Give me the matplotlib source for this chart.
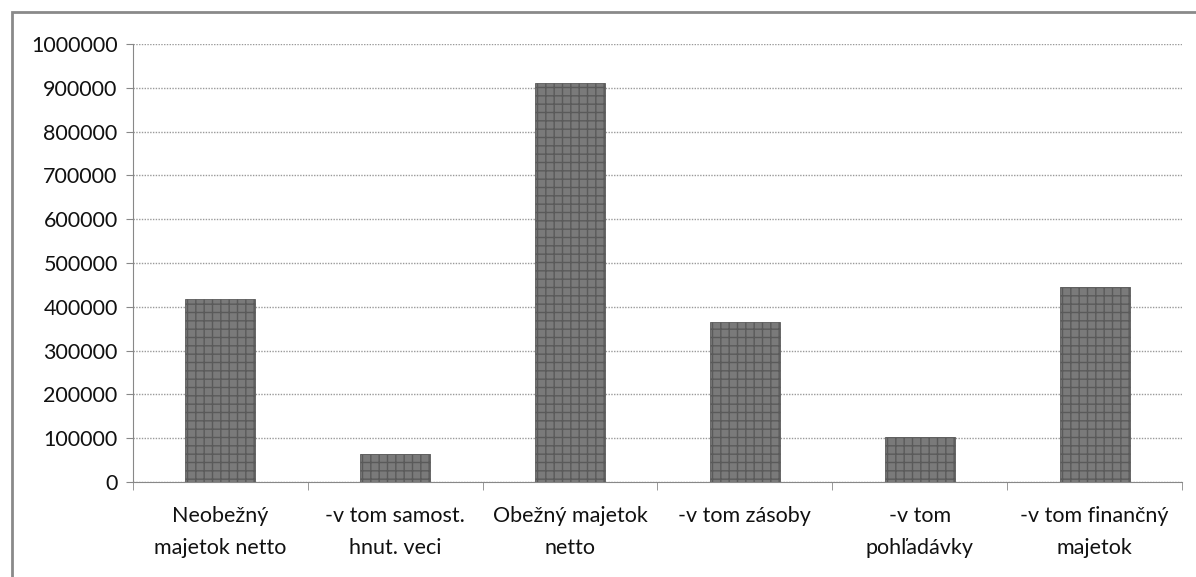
import matplotlib.pyplot as plt
import numpy as np
from matplotlib.patches import Rectangle

kategorie = ['Neobežný\nmajetok netto', '-v tom samost.\nhnut. veci', 'Obežný majetok\nnetto',
             '-v tom zásoby\n', '-v tom\npohľadávky', '-v tom finančný\nmajetok']
hodnoty = [418000, 64000, 911000, 365000, 103000, 445000]
y_ticky = list(range(0, 1000001, 100000))

plt.rcParams['font.family'] = ['Lato', 'DejaVu Sans']

fig = plt.figure(figsize=(11.96, 5.77), dpi=100)
ax = fig.add_axes([133/1196, 1 - 482/577, (1182-133)/1196, (482-44)/577])

x = np.arange(len(kategorie))
ax.bar(x, hodnoty, width=0.4, color='#7a7a7a', edgecolor='#5a5a5a', linewidth=0.6,
       hatch='++', zorder=3)

ax.set_xlim(-0.5, len(kategorie) - 0.5)
ax.set_ylim(0, 1000000)
ax.set_yticks(y_ticky)
ax.set_yticklabels([str(v) for v in y_ticky], fontsize=15.5, color='#111111')
ax.yaxis.grid(True, color='#9a9a9a', linestyle=(0, (1, 1)), linewidth=1.0, zorder=0)

ax.set_xticks(x)
ax.set_xticklabels(kategorie, fontsize=15.5, color='#111111', linespacing=1.75)
ax.set_xticks(np.arange(-0.5, len(kategorie), 1), minor=True)
ax.tick_params(axis='x', which='major', length=0, pad=17)
ax.tick_params(axis='x', which='minor', length=6, color='#888888')
ax.tick_params(axis='y', length=5, color='#888888', pad=6)

for s in ['top', 'right']:
    ax.spines[s].set_visible(False)
ax.spines['left'].set_color('#888888')
ax.spines['bottom'].set_color('#888888')

# ramček okolo grafu
fig.patches.append(Rectangle((12/1196, -0.02), 1.2, 1 - 12/577 + 0.02, transform=fig.transFigure,
                             fill=False, edgecolor='#8a8a8a', linewidth=2))

fig.savefig('out.png', dpi=100)
